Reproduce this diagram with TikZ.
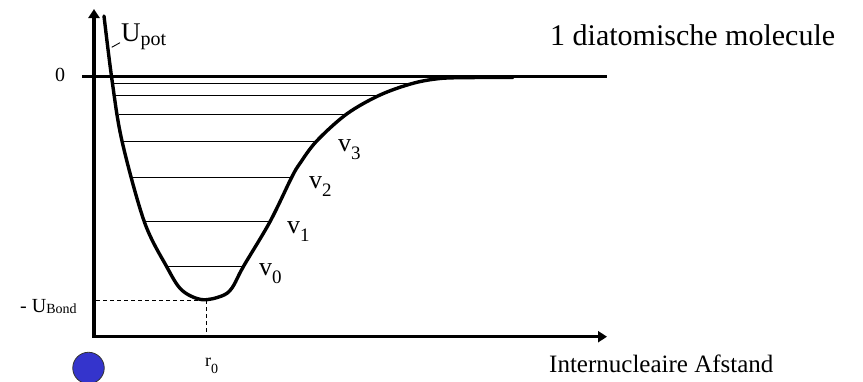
\documentclass[tikz,border=0pt]{standalone}
\usepackage{fontspec}
\setmainfont{Liberation Serif}
\usetikzlibrary{arrows.meta}
\definecolor{atomblue}{RGB}{52,52,204}
\newcommand{\vlab}[1]{{\fontsize{26}{26}\selectfont v}\raisebox{-8pt}{\fontsize{19}{19}\selectfont #1}}
\begin{document}
\begin{tikzpicture}[x=1pt,y=-1pt,
  axis/.style={line width=3.3pt,-{Triangle[length=9pt,width=11pt]}},
  level/.style={line width=0.9pt},
  levelthick/.style={line width=1.4pt},
  curve/.style={line width=3.4pt,line join=round,line cap=round},
  guide/.style={line width=0.8pt,dash pattern=on 4pt off 3pt},
  lab/.style={inner sep=0pt,anchor=base west}]
\useasboundingbox (0,0) rectangle (863,381);
\coordinate (O) at (94,336.7);
\coordinate (ytip) at (94,9);
\coordinate (xtip) at (607,336.7);
\coordinate (zl) at (82,76.7);
\coordinate (zr) at (607,76.7);
\coordinate (min) at (203,300.3);
\coordinate (yb) at (96,300.3);
\coordinate (r0top) at (206,300.3);
\coordinate (r0bot) at (206,335);
% axes
\draw[axis] (O) -- (ytip);
\draw[axis] ([xshift=-1.6pt]O) -- (xtip);
% zero line
\draw[line width=3pt] (zl) -- (zr);
% vibrational levels
\draw[level] (113.5,83.3) -- (413,83.3);
\draw[level] (115.5,95.3) -- (379,95.3);
\draw[level] (118.5,114) -- (347,114);
\draw[level] (122.5,141) -- (317,141);
\draw[levelthick] (130,177.5) -- (292,177.5);
\draw[level] (144.5,221.7) -- (270,221.7);
\draw[levelthick] (166.7,266.7) -- (243,266.7);
% potential curve
\draw[curve] plot[smooth,tension=0.55] coordinates {
  (104,16) (112,80) (122,141)
  (144.3,221.7) (166.7,266.7) (181.7,290) (201.7,299.6)
  (221.7,296) (232,288) (243.3,266.7) (270,221.7) (291.7,177.3)
  (300,163.3) (316.7,141) (346.7,114) (380,95) (413,83.3) (440,78.5)
  (470,77.6) (513,77.4)};
% dashed guides
\draw[guide] (yb) -- (min);
\draw[guide] (r0top) -- (r0bot);
% labels
\node[lab] (title) at (550,45) {\fontsize{30}{30}\selectfont 1 diatomische molecule};
\node[lab] (xlabel) at (549,372.7) {\fontsize{25}{25}\selectfont Internucleaire Afstand};
\node[lab] (zero) at (55,81.7) {\fontsize{20}{20}\selectfont 0};
\node[lab] (upot) at (121,41.7) {\fontsize{27}{27}\selectfont U\raisebox{-3.3pt}{\fontsize{20}{20}\selectfont pot}};
\coordinate (lead1) at (111.7,47.3);
\coordinate (lead2) at (120,42.7);
\draw[line width=0.9pt] (lead1) -- (lead2);
\node[lab] (ubond) at (20,312.3) {\fontsize{20}{20}\selectfont - U\raisebox{-1.5pt}{\fontsize{14}{14}\selectfont Bond}};
\node[lab] (r0) at (205,366.7) {\fontsize{18}{18}\selectfont r\raisebox{-6.6pt}{\fontsize{14}{14}\selectfont 0}};
\node[lab] (v3) at (338,151.7) {\vlab{3}};
\node[lab] (v2) at (309,188.3) {\vlab{2}};
\node[lab] (v1) at (287,233) {\vlab{1}};
\node[lab] (v0) at (259,275) {\vlab{0}};
% atom
\node[circle,draw=black!80,line width=0.8pt,fill=atomblue,minimum size=31.5pt,inner sep=0pt] (atom) at (88.5,368) {};
\end{tikzpicture}
\end{document}
